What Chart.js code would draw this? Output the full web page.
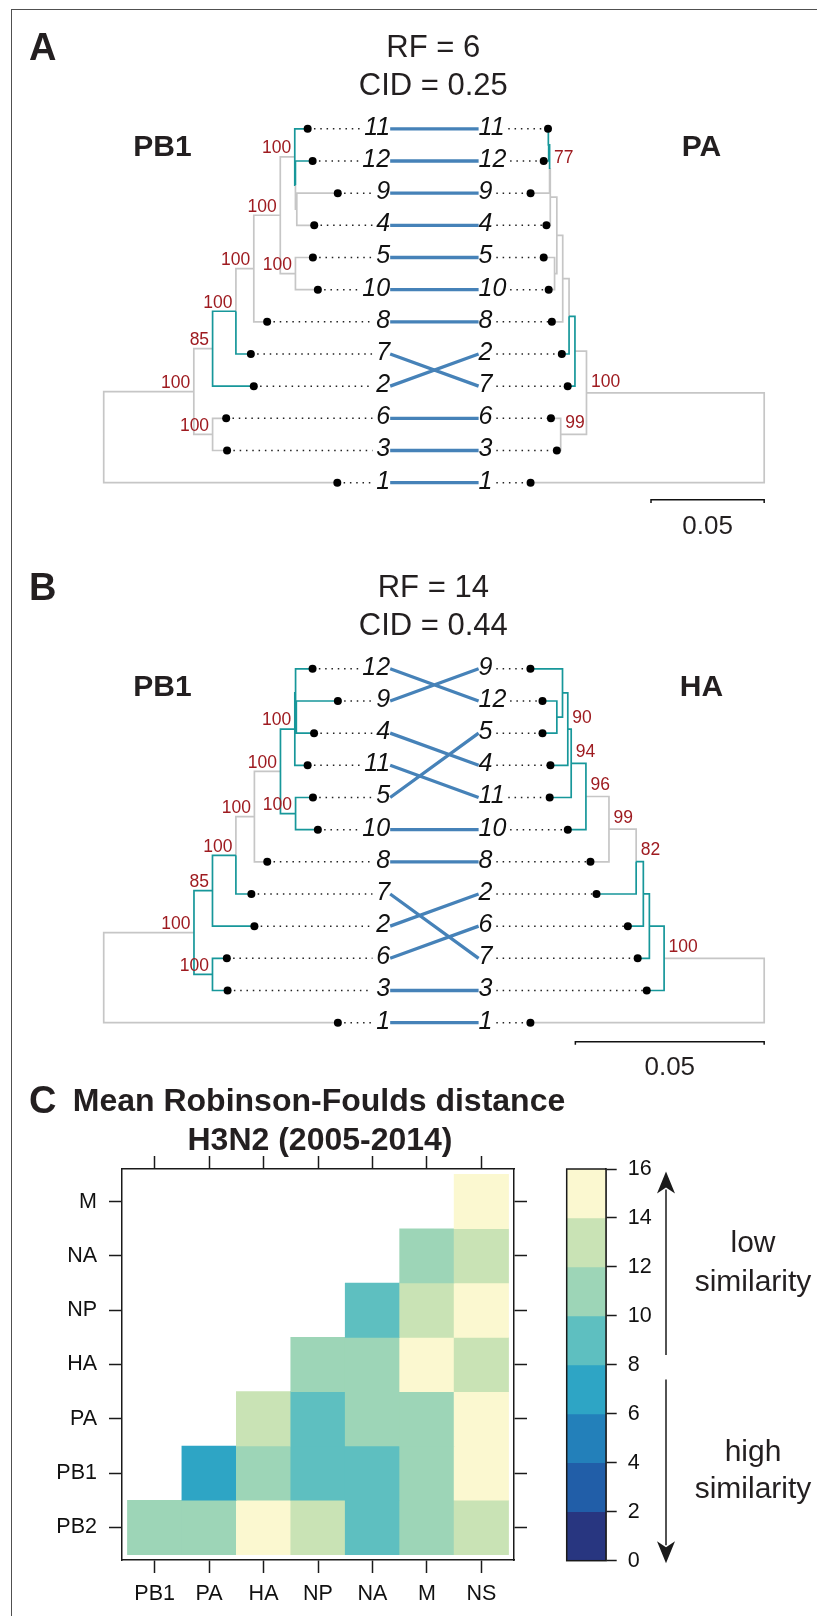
<!DOCTYPE html>
<html>
<head>
<meta charset="utf-8">
<title>PB1 tanglegrams and RF heatmap</title>
<script src="https://cdn.jsdelivr.net/npm/chart.js@4.4.1/dist/chart.umd.min.js"></script>
<style>
  html, body { margin: 0; padding: 0; background: #fff; }
  #page { position: relative; width: 817px; height: 1616px; overflow: hidden; }
  #frame { position: absolute; left: 11px; top: 9px; width: 830px; height: 1630px;
           border-left: 1.4px solid #505050; border-top: 1.4px solid #505050; }
  canvas { position: absolute; }
</style>
</head>
<body>
<div id="page">
  <div id="frame"></div>
  <canvas id="panelA" width="817" height="540" style="left:0;top:0"></canvas>
  <canvas id="panelB" width="817" height="540" style="left:0;top:540px"></canvas>
  <canvas id="heat" width="817" height="536" style="left:0;top:1080px"></canvas>
  <canvas id="key" width="277" height="536" style="left:540px;top:1080px"></canvas>
</div>
<script>
// distances printed over each tanglegram
const rfValues = [6, 14];
const cidValues = [0.25, 0.44];
const SCALE_LEN = 0.05;

// tree nodes: [name, parent, depth from root (subst./site), bootstrap, teal edge]
// panel A, PB1 (left)
const pb1TreeA = [
  ['root', null, 0, '', 0],
  ['n1', 'root', 0.0398, '100', 0],
  ['n2', 'n1', 0.0481, '85', 0],
  ['n3', 'n1', 0.0481, '100', 0],
  ['n4', 'n2', 0.0584, '100', 1],
  ['n5', 'n4', 0.0663, '100', 0],
  ['n6', 'n5', 0.0780, '100', 0],
  ['n7', 'n6', 0.0844, '100', 0],
  ['n7a', 'n7', 0.0847, '', 1],
  ['n7b', 'n7a', 0.0853, '', 0],
  ['n8', 'n6', 0.0847, '100', 0],
  ['11', 'n7', 0.0901, '', 1],
  ['12', 'n7a', 0.0923, '', 1],
  ['9', 'n7b', 0.1034, '', 0],
  ['4', 'n7b', 0.0930, '', 0],
  ['5', 'n8', 0.0924, '', 0],
  ['10', 'n8', 0.0946, '', 0],
  ['8', 'n5', 0.0722, '', 0],
  ['7', 'n4', 0.0650, '', 1],
  ['2', 'n2', 0.0663, '', 1],
  ['6', 'n3', 0.0541, '', 0],
  ['3', 'n3', 0.0545, '', 0],
  ['1', 'root', 0.1032, '', 0],
];
const pb1OrderA = ['11', '12', '9', '4', '5', '10', '8', '7', '2', '6', '3', '1'];

// panel A, PA (right)
const paTreeA = [
  ['root', null, 0, '', 0],
  ['r1', 'root', 0.0785, '100', 0],
  ['r2', 'r1', 0.0836, '', 0],
  ['r3', 'r1', 0.0899, '99', 0],
  ['r4', 'r2', 0.0862, '', 1],
  ['r5', 'r4', 0.0890, '', 0],
  ['r6', 'r5', 0.0916, '', 0],
  ['r7', 'r6', 0.0945, '', 0],
  ['r8', 'r6', 0.0926, '', 0],
  ['r10', 'r7', 0.0948, '77', 0],
  ['r9', 'r10', 0.0952, '', 1],
  ['11', 'r9', 0.0955, '', 1],
  ['12', 'r9', 0.0974, '', 1],
  ['9', 'r10', 0.1032, '', 0],
  ['4', 'r7', 0.0962, '', 0],
  ['5', 'r8', 0.0974, '', 0],
  ['10', 'r8', 0.0952, '', 0],
  ['8', 'r5', 0.0938, '', 0],
  ['2', 'r4', 0.0894, '', 1],
  ['7', 'r2', 0.0868, '', 1],
  ['6', 'r3', 0.0942, '', 0],
  ['3', 'r3', 0.0916, '', 0],
  ['1', 'root', 0.1032, '', 0],
];
const paOrderA = ['11', '12', '9', '4', '5', '10', '8', '2', '7', '6', '3', '1'];

// panel B, PB1 (left)
const pb1TreeB = [
  ['root', null, 0, '', 0],
  ['n1', 'root', 0.0239, '100', 0],
  ['n2', 'n1', 0.0288, '85', 1],
  ['n3', 'n1', 0.0288, '100', 1],
  ['n4', 'n2', 0.0350, '100', 1],
  ['n5', 'n4', 0.0399, '100', 0],
  ['n6', 'n5', 0.0468, '100', 0],
  ['n7', 'n6', 0.0506, '100', 1],
  ['n7a', 'n7', 0.0508, '', 1],
  ['n7b', 'n7a', 0.0510, '', 1],
  ['n8', 'n6', 0.0508, '100', 1],
  ['12', 'n7a', 0.0553, '', 1],
  ['9', 'n7b', 0.0620, '', 1],
  ['4', 'n7b', 0.0557, '', 1],
  ['11', 'n7', 0.0540, '', 1],
  ['5', 'n8', 0.0554, '', 1],
  ['10', 'n8', 0.0567, '', 1],
  ['8', 'n5', 0.0433, '', 0],
  ['7', 'n4', 0.0391, '', 1],
  ['2', 'n2', 0.0399, '', 1],
  ['6', 'n3', 0.0326, '', 1],
  ['3', 'n3', 0.0328, '', 1],
  ['1', 'root', 0.0620, '', 0],
];
const pb1OrderB = ['12', '9', '4', '11', '5', '10', '8', '7', '2', '6', '3', '1'];

// panel B, HA (right)
const haTreeB = [
  ['root', null, 0, '', 0],
  ['r1', 'root', 0.0265, '100', 0],
  ['r2', 'r1', 0.0304, '', 1],
  ['r3', 'r2', 0.0320, '', 1],
  ['r4', 'r3', 0.0339, '82', 1],
  ['r5', 'r4', 0.0411, '99', 0],
  ['r6', 'r5', 0.0472, '96', 0],
  ['r7', 'r6', 0.0511, '94', 1],
  ['r8', 'r7', 0.0520, '90', 1],
  ['r9', 'r8', 0.0534, '', 1],
  ['r10', 'r9', 0.0549, '', 1],
  ['9', 'r9', 0.0619, '', 1],
  ['12', 'r10', 0.0587, '', 1],
  ['5', 'r10', 0.0587, '', 1],
  ['4', 'r8', 0.0566, '', 1],
  ['11', 'r7', 0.0568, '', 1],
  ['10', 'r6', 0.0520, '', 1],
  ['8', 'r5', 0.0460, '', 0],
  ['2', 'r4', 0.0444, '', 1],
  ['6', 'r3', 0.0361, '', 1],
  ['7', 'r2', 0.0335, '', 1],
  ['3', 'r1', 0.0311, '', 1],
  ['1', 'root', 0.0619, '', 0],
];
const haOrderB = ['9', '12', '5', '4', '11', '10', '8', '2', '6', '7', '3', '1'];

// panel C, mean RF distance between segment trees
const segCols = ['PB1', 'PA', 'HA', 'NP', 'NA', 'M', 'NS'];
const segRows = ['PB2', 'PB1', 'PA', 'HA', 'NP', 'NA', 'M'];   // bottom to top
const rfMean = [
  [10.4, 11.1, 14.0, 12.2, 9.4, 11.6, 13.3],
  [null, 7.2, 10.6, 9.1, 8.8, 11.0, 15.1],
  [null, null, 12.4, 9.6, 10.8, 11.5, 14.6],
  [null, null, null, 10.9, 11.3, 14.2, 13.1],
  [null, null, null, null, 9.3, 12.6, 14.5],
  [null, null, null, null, null, 11.2, 12.9],
  [null, null, null, null, null, null, 14.8],
];
const keyBreaks = [0, 2, 4, 6, 8, 10, 12, 14, 16];
const keyColours = ['#283680', '#215ea8', '#2380ba', '#2ea5c5', '#5ebfc0', '#9dd5b7', '#c9e3b5', '#fbf8d0'];

// layout (pixels)
const FONT = '"Liberation Sans", Arial, Helvetica, sans-serif';
const INK = '#231f20';
const BOOT = '#9e1b20';
const GREY = '#c6c6c6';
const TEAL = '#17979a';
const LINK = '#4682b8';
const LEFT_ROOT_PX = 100.7, RIGHT_ROOT_PX = 767.7;
const ROW0_PX = 126.7, ROW_PX = 32.65;
const LABEL_L_PX = 390, LABEL_R_PX = 479.3;
const LEAF_SIZE = 25;

const measure = document.createElement('canvas').getContext('2d');

function say(ctx, str, x, yMid, size, o = {}) {
  ctx.font = (o.italic ? 'italic ' : '') + (o.bold ? 'bold ' : '') + size + 'px ' + FONT;
  ctx.fillStyle = o.colour || INK;
  ctx.textAlign = o.align || 'left';
  ctx.textBaseline = 'alphabetic';
  ctx.fillText(str, x, yMid + 0.36 * size);
}

function layoutTree(nodes, order, mirror, ppu) {
  const tree = {};
  nodes.forEach(([name, parent, depth, boot, teal]) => {
    tree[name] = { name, parent, depth, boot, teal, kids: [] };
  });
  Object.values(tree).forEach(n => { if (n.parent) tree[n.parent].kids.push(n); });
  const rootX = mirror ? (RIGHT_ROOT_PX - LEFT_ROOT_PX) / ppu : 0;
  const sign = mirror ? -1 : 1;
  function place(n) {
    n.x = rootX + sign * n.depth;
    if (!n.kids.length) {
      n.y = order.indexOf(n.name);
    } else {
      const ys = n.kids.map(place);
      n.y = (Math.min(...ys) + Math.max(...ys)) / 2;
    }
    return n.y;
  }
  place(tree.root);
  return tree;
}

function edgePoints(tree, teal) {
  const pts = [];
  Object.values(tree).forEach(n => {
    if (!n.parent || !!n.teal !== teal) return;
    const p = tree[n.parent];
    pts.push({ x: p.x, y: p.y }, { x: p.x, y: n.y }, { x: n.x, y: n.y }, { x: n.x, y: null });
  });
  return pts;
}

// higher order is drawn first (underneath)
function lineSet(data, colour, width, order, dash) {
  return {
    type: 'scatter', data, order, showLine: true, spanGaps: false, fill: false,
    borderColor: colour, borderWidth: width, borderDash: dash || [],
    borderCapStyle: 'butt', borderJoinStyle: 'miter', pointRadius: 0, tension: 0
  };
}

function tanglePanel(id, p) {
  const W = 817, H = 540;
  const left = layoutTree(p.leftTree, p.leftOrder, false, p.ppu);
  const right = layoutTree(p.rightTree, p.rightOrder, true, p.ppu);
  const toX = px => (px - LEFT_ROOT_PX) / p.ppu;
  const labL = toX(LABEL_L_PX), labR = toX(LABEL_R_PX);

  measure.font = 'italic ' + LEAF_SIZE + 'px ' + FONT;
  const gap = 4 / p.ppu;
  const leaders = [];
  p.leftOrder.forEach(l => {
    const w = measure.measureText(l).width / p.ppu;
    leaders.push({ x: left[l].x, y: left[l].y }, { x: labL - w - gap, y: left[l].y }, { x: labL, y: null });
  });
  p.rightOrder.forEach(l => {
    const w = measure.measureText(l).width / p.ppu;
    leaders.push({ x: labR + w + gap, y: right[l].y }, { x: right[l].x, y: right[l].y }, { x: labR, y: null });
  });

  const links = [];
  p.leftOrder.forEach(l => {
    links.push({ x: labL, y: left[l].y }, { x: labR, y: right[l].y }, { x: labR, y: null });
  });

  const tips = p.leftOrder.map(l => ({ x: left[l].x, y: left[l].y }))
    .concat(p.rightOrder.map(l => ({ x: right[l].x, y: right[l].y })));

  const rx = right.root.x, tk = 0.1;
  const bar = [{ x: rx - SCALE_LEN, y: p.barRow + tk }, { x: rx - SCALE_LEN, y: p.barRow },
               { x: rx, y: p.barRow }, { x: rx, y: p.barRow + tk }];

  const labels = {
    id: 'panelLabels',
    afterDatasetsDraw(chart) {
      const { ctx } = chart, x = chart.scales.x, y = chart.scales.y;
      ctx.save();
      say(ctx, p.letter, 29, 46.7, 38, { bold: true });
      say(ctx, 'RF = ' + p.rf, 433.3, 46.2, 31, { align: 'center' });
      say(ctx, 'CID = ' + p.cid.toFixed(2), 433.3, 84.2, 31, { align: 'center' });
      say(ctx, p.leftName, 162.5, 145.5, 30, { bold: true, align: 'center' });
      say(ctx, p.rightName, 701.5, 145, 30, { bold: true, align: 'center' });
      p.leftOrder.forEach((l, i) => say(ctx, l, x.getPixelForValue(labL), y.getPixelForValue(i) - 3, LEAF_SIZE, { italic: true, align: 'right', colour: '#111' }));
      p.rightOrder.forEach((l, i) => say(ctx, l, x.getPixelForValue(labR), y.getPixelForValue(i) - 3, LEAF_SIZE, { italic: true, colour: '#111' }));
      Object.values(left).forEach(n => {
        if (n.boot) say(ctx, n.boot, x.getPixelForValue(n.x) - 3.5, y.getPixelForValue(n.y) - 10, 17.5, { align: 'right', colour: BOOT });
      });
      Object.values(right).forEach(n => {
        if (n.boot) say(ctx, n.boot, x.getPixelForValue(n.x) + 4.5, y.getPixelForValue(n.y) - 12.5, 17.5, { colour: BOOT });
      });
      const x0 = x.getPixelForValue(rx - SCALE_LEN), x1 = x.getPixelForValue(rx);
      say(ctx, String(SCALE_LEN), (x0 + x1) / 2, y.getPixelForValue(p.barRow) + 24.5, 26, { align: 'center' });
      ctx.restore();
    }
  };

  new Chart(document.getElementById(id), {
    type: 'scatter',
    data: {
      datasets: [
        lineSet(edgePoints(left, false).concat(edgePoints(right, false)), GREY, 1.7, 6),
        lineSet(edgePoints(left, true).concat(edgePoints(right, true)), TEAL, 1.7, 5),
        lineSet(leaders, '#222', 1.5, 4, [1.5, 4.8]),
        lineSet(links, LINK, 3.3, 3),
        lineSet(bar, '#111', 1.5, 2),
        { type: 'scatter', data: tips, order: 1, showLine: false, pointRadius: 4,
          pointBackgroundColor: '#000', pointBorderColor: '#000', pointBorderWidth: 0 },
      ]
    },
    options: {
      responsive: false, animation: false, devicePixelRatio: 1, events: [],
      layout: { padding: 0 },
      plugins: { legend: { display: false }, tooltip: { enabled: false } },
      scales: {
        x: { type: 'linear', display: false, min: -LEFT_ROOT_PX / p.ppu, max: (W - LEFT_ROOT_PX) / p.ppu },
        y: { type: 'linear', display: false, reverse: true, min: -ROW0_PX / ROW_PX, max: (H - ROW0_PX) / ROW_PX }
      }
    },
    plugins: [labels]
  });
}

tanglePanel('panelA', {
  letter: 'A', rf: rfValues[0], cid: cidValues[0], leftName: 'PB1', rightName: 'PA',
  leftTree: pb1TreeA, leftOrder: pb1OrderA, rightTree: paTreeA, rightOrder: paOrderA,
  ppu: 114.3 / SCALE_LEN, barRow: 11.53
});
tanglePanel('panelB', {
  letter: 'B', rf: rfValues[1], cid: cidValues[1], leftName: 'PB1', rightName: 'HA',
  leftTree: pb1TreeB, leftOrder: pb1OrderB, rightTree: haTreeB, rightOrder: haOrderB,
  ppu: 190.7 / SCALE_LEN, barRow: 11.59
});

// ---- panel C: heatmap ----
const heatCells = [], heatFills = [];
rfMean.forEach((row, r) => row.forEach((v, c) => {
  if (v === null) return;
  heatCells.push({ x: c, y: [r - 0.5, r + 0.5] });
  heatFills.push(keyColours[keyBreaks.findIndex(b => v < b) - 1]);
}));

const axisFont = { family: FONT, size: 21.5 };
function heatAxis(position, names, size, showLabels) {
  const horiz = position === 'top' || position === 'bottom';
  return {
    type: 'linear', position, min: -0.6, max: 6.6, offset: false,
    afterBuildTicks: a => { a.ticks = names.map((_, i) => ({ value: i })); },
    afterFit: a => { if (horiz) a.height = size; else a.width = size; },
    ticks: { display: showLabels, callback: v => names[v], font: axisFont, color: '#111',
             padding: horiz ? 8 : 12, maxRotation: 0, autoSkip: false },
    grid: { display: true, drawOnChartArea: false, drawTicks: true, tickLength: 13,
            tickColor: '#1a1a1a', tickWidth: 1.5, offset: false },
    border: { display: true, color: '#1a1a1a', width: 1.5 }
  };
}

const heatTitle = {
  id: 'heatTitle',
  afterDraw(chart) {
    const { ctx } = chart;
    ctx.save();
    say(ctx, 'C', 29, 19.7, 38, { bold: true });
    say(ctx, 'Mean Robinson-Foulds distance', 319, 19.1, 32, { bold: true, align: 'center' });
    say(ctx, 'H3N2 (2005-2014)', 320, 58.5, 32, { bold: true, align: 'center' });
    ctx.restore();
  }
};

new Chart(document.getElementById('heat'), {
  type: 'bar',
  data: { datasets: [{ data: heatCells, backgroundColor: heatFills, borderWidth: 0,
                       barPercentage: 1, categoryPercentage: 1 }] },
  options: {
    responsive: false, animation: false, devicePixelRatio: 1, events: [],
    layout: { padding: 0 },
    plugins: { legend: { display: false }, tooltip: { enabled: false } },
    scales: {
      x: heatAxis('bottom', segCols, 56, true),
      x2: heatAxis('top', segCols, 89, false),
      y: heatAxis('left', segRows, 122, true),
      y2: heatAxis('right', segRows, 303, false)
    }
  },
  plugins: [heatTitle]
});

// ---- colour key ----
function arrow(ctx, x, from, to) {
  const dir = Math.sign(to - from), head = 22, half = 9;
  ctx.beginPath();
  ctx.moveTo(x, from);
  ctx.lineTo(x, to - dir * (head - 4));
  ctx.stroke();
  ctx.beginPath();
  ctx.moveTo(x, to);
  ctx.lineTo(x - half, to - dir * head);
  ctx.lineTo(x, to - dir * (head - 6));
  ctx.lineTo(x + half, to - dir * head);
  ctx.closePath();
  ctx.fill();
}

const keyNotes = {
  id: 'keyNotes',
  afterDraw(chart) {
    const { ctx, chartArea: a } = chart, y = chart.scales.y;
    ctx.save();
    ctx.strokeStyle = '#1a1a1a';
    ctx.fillStyle = '#1a1a1a';
    ctx.lineWidth = 1.5;
    ctx.strokeRect(a.left, a.top, a.right - a.left, a.bottom - a.top);
    const ax = a.right + 60, tx = a.right + 147;
    arrow(ctx, ax, y.getPixelForValue(8.4), y.getPixelForValue(15.9));
    arrow(ctx, ax, y.getPixelForValue(7.4), y.getPixelForValue(-0.1));
    const line = (str, v) => {
      ctx.font = '30px ' + FONT;
      ctx.fillStyle = INK;
      ctx.textAlign = 'center';
      ctx.textBaseline = 'alphabetic';
      ctx.fillText(str, tx, y.getPixelForValue(v));
    };
    line('low', 12.62);
    line('similarity', 11.0);
    line('high', 4.09);
    line('similarity', 2.56);
    ctx.restore();
  }
};

new Chart(document.getElementById('key'), {
  type: 'bar',
  data: { datasets: [{
    data: keyColours.map((c, i) => ({ x: 0, y: [keyBreaks[i], keyBreaks[i + 1]] })),
    backgroundColor: keyColours, borderWidth: 0, barPercentage: 1, categoryPercentage: 1
  }] },
  options: {
    responsive: false, animation: false, devicePixelRatio: 1, events: [],
    layout: { padding: { left: 26.7, top: 89, bottom: 55.3, right: 0 } },
    plugins: { legend: { display: false }, tooltip: { enabled: false } },
    scales: {
      x: { type: 'linear', display: false, min: -0.5, max: 0.5, offset: false,
           afterBuildTicks: a => { a.ticks = [{ value: 0 }]; } },
      y: { type: 'linear', position: 'right', min: 0, max: 16,
           afterFit: a => { a.width = 211; },
           ticks: { stepSize: 2, font: axisFont, color: '#111', padding: 11 },
           grid: { drawOnChartArea: false, drawTicks: true, tickLength: 10.7,
                   tickColor: '#1a1a1a', tickWidth: 1.5 },
           border: { display: true, color: '#1a1a1a', width: 1.5 } }
    }
  },
  plugins: [keyNotes]
});
</script>
</body>
</html>
